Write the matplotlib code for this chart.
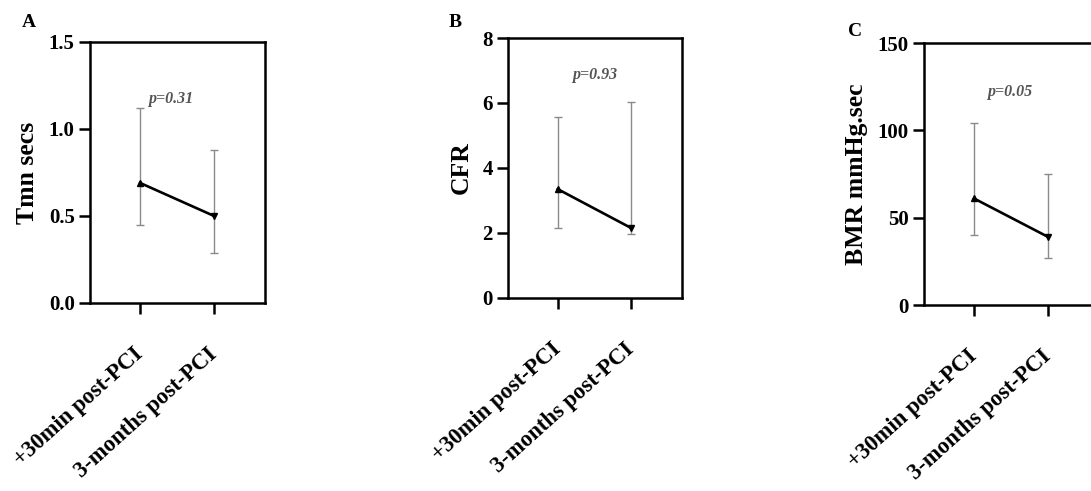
import numpy as np
import matplotlib.pyplot as plt

plt.rcParams['font.family'] = ['Liberation Serif', 'DejaVu Serif']

groups = ["+30min post-PCI", "3-months post-PCI"]

# panel A - Tmn
tmn_mean = [0.69, 0.50]
tmn_lo = [0.45, 0.29]
tmn_hi = [1.12, 0.88]

# panel B - CFR
cfr_mean = [3.35, 2.15]
cfr_lo = [2.15, 1.97]
cfr_hi = [5.57, 6.02]

# panel C - BMR
bmr_mean = [61, 39]
bmr_lo = [40, 27]
bmr_hi = [104, 75]

panels = [
    ("A", "Tmn secs", tmn_mean, tmn_lo, tmn_hi, (0, 1.5), [0.0, 0.5, 1.0, 1.5], "{:.1f}", "p=0.31"),
    ("B", "CFR", cfr_mean, cfr_lo, cfr_hi, (0, 8), [0, 2, 4, 6, 8], "{:.0f}", "p=0.93"),
    ("C", "BMR mmHg.sec", bmr_mean, bmr_lo, bmr_hi, (0, 150), [0, 50, 100, 150], "{:.0f}", "p=0.05"),
]

# axes rectangles (figure fraction)
rects = [
    [0.0825, 0.3829, 0.1604, 0.5316],
    [0.4656, 0.3931, 0.1595, 0.5295],
    [0.8469, 0.3788, 0.1604, 0.5336],
]
letter_pos = [(0.020, 0.955), (0.411, 0.955), (0.777, 0.935)]
p_pos = [(0.46, 0.78), (0.50, 0.858), (0.49, 0.813)]

fig = plt.figure(figsize=(10.91, 4.91), dpi=100)

for (letter, ylab, m, lo, hi, ylim, yt, fmt, ptxt), r, lp, pp in zip(panels, rects, letter_pos, p_pos):
    ax = fig.add_axes(r)
    x = np.arange(len(groups))
    m = np.array(m, float)
    err = [m - np.array(lo), np.array(hi) - m]
    ax.errorbar(x, m, yerr=err, fmt='none', ecolor='#8a8a8a', elinewidth=1.0,
                capsize=3, capthick=1.0, zorder=2)
    ax.plot(x, m, color='black', lw=1.9, zorder=3)
    ax.plot(x[0], m[0], marker='^', color='black', ms=5, zorder=4)
    ax.plot(x[1], m[1], marker='v', color='black', ms=5, zorder=4)

    ax.set_xlim(-0.676, 1.688)
    ax.set_ylim(*ylim)
    ax.set_yticks(yt)
    ax.set_yticklabels([fmt.format(v) for v in yt])
    ax.set_xticks(x)
    ax.set_xticklabels(groups, rotation=42, ha='right', va='center',
                       rotation_mode='anchor')
    ax.tick_params(axis='both', direction='out', length=8, width=1.8)
    ax.tick_params(axis='y', labelsize=15, pad=3)
    ax.tick_params(axis='x', labelsize=16.3, pad=27)
    for lab in ax.get_xticklabels() + ax.get_yticklabels():
        lab.set_fontweight('bold')
    for s in ax.spines.values():
        s.set_linewidth(1.8)
    ax.set_ylabel(ylab, fontsize=18.5, fontweight='bold', labelpad=7)
    ax.text(pp[0], pp[1], ptxt, transform=ax.transAxes, fontsize=11.5,
            style='italic', fontweight='bold', color='#555555',
            ha='center', va='center')
    fig.text(lp[0], lp[1], letter, fontsize=14, fontweight='bold', ha='left', va='center')

fig.savefig("out.png", dpi=100)
